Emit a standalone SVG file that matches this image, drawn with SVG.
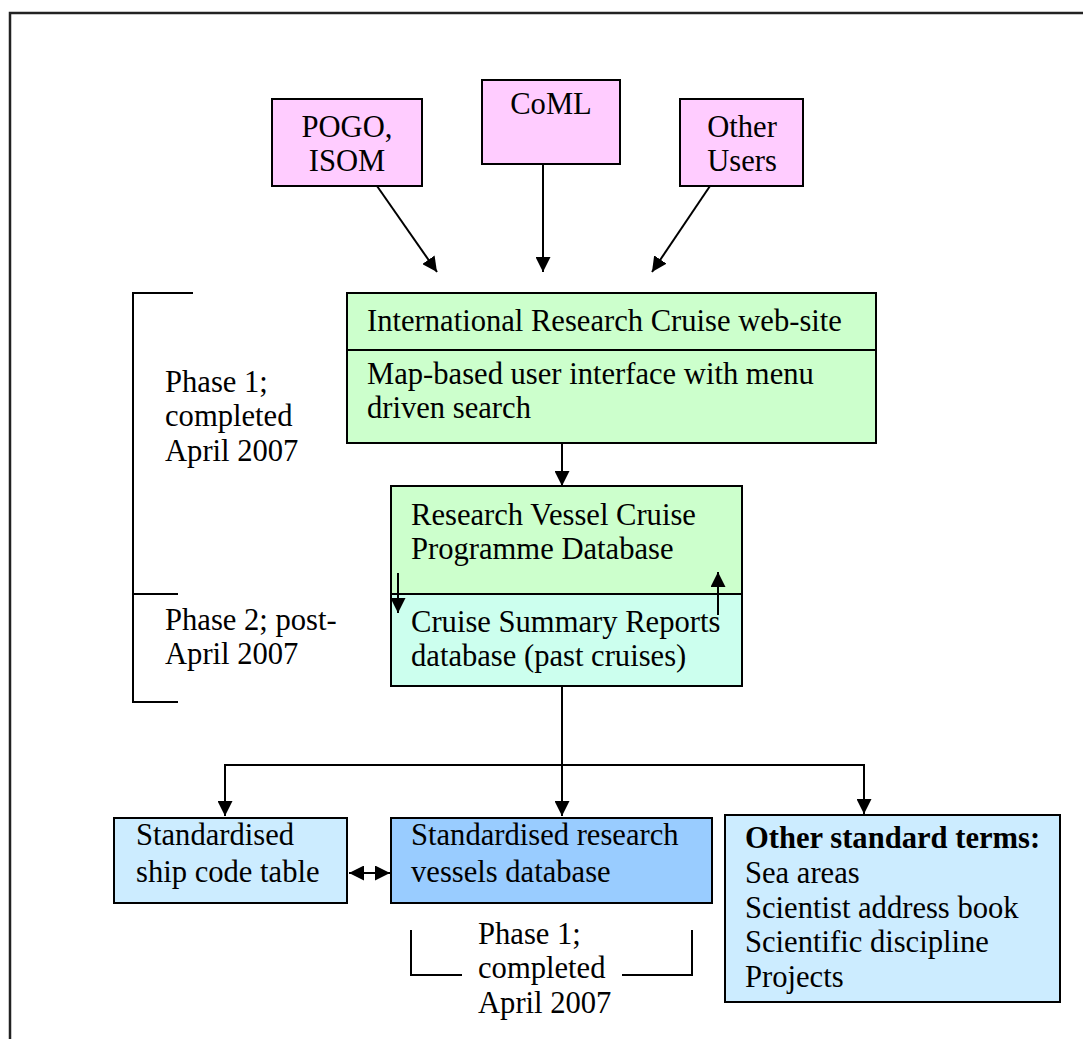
<svg xmlns="http://www.w3.org/2000/svg" width="1083" height="1039" viewBox="0 0 1083 1039">
<defs>
<marker id="ah" markerUnits="userSpaceOnUse" markerWidth="15" markerHeight="15" viewBox="0 0 15 15" refX="15" refY="7.5" orient="auto-start-reverse">
<path d="M0,0 L15,7.5 L0,15 Z" fill="#000"/>
</marker>
<style>
.t{font-family:"Liberation Serif","Times New Roman",serif;font-size:30.6px;fill:#000}
.b{font-weight:bold}
.box{stroke:#000;stroke-width:2}
.pink{fill:#FFCCFF}
.green{fill:#CCFFCC}
.cyan{fill:#CCFFEE}
.lblue{fill:#CCECFF}
.mblue{fill:#99CCFF}
.c{stroke:#000;stroke-width:2;fill:none}
.a{marker-end:url(#ah)}
.br{stroke:#000;stroke-width:2;fill:none}
</style>
</defs>
<rect width="1083" height="1039" fill="#fff"/>
<path d="M10,1039 V13 H1083" fill="none" stroke="#222" stroke-width="2.5"/>

<g id="pogo">
<rect class="box pink" x="272" y="99" width="150" height="87"/>
<text class="t" x="347" y="137" text-anchor="middle">POGO,</text>
<text class="t" x="347" y="171" text-anchor="middle">ISOM</text>
</g>
<g id="coml">
<rect class="box pink" x="482" y="80" width="138" height="84"/>
<text class="t" x="551" y="114" text-anchor="middle">CoML</text>
</g>
<g id="other-users">
<rect class="box pink" x="680" y="99" width="123" height="87"/>
<text class="t" x="742" y="137" text-anchor="middle">Other</text>
<text class="t" x="742" y="171" text-anchor="middle">Users</text>
</g>

<g id="website">
<rect class="box green" x="347" y="293" width="529" height="150"/>
<line x1="347" y1="350" x2="876" y2="350" stroke="#000" stroke-width="2"/>
<text class="t" x="367" y="331">International Research Cruise web-site</text>
<text class="t" x="367" y="384">Map-based user interface with menu</text>
<text class="t" x="367" y="418">driven search</text>
</g>

<g id="cruise-db">
<rect class="green" x="391" y="486" width="351" height="108"/>
<rect class="cyan" x="391" y="594" width="351" height="92"/>
<rect class="box" fill="none" x="391" y="486" width="351" height="200"/>
<line x1="391" y1="594" x2="742" y2="594" stroke="#000" stroke-width="2"/>
<text class="t" x="411" y="525">Research Vessel Cruise</text>
<text class="t" x="411" y="559">Programme Database</text>
<text class="t" x="411" y="632">Cruise Summary Reports</text>
<text class="t" x="411" y="666">database (past cruises)</text>
</g>

<g id="ship-code">
<rect class="box lblue" x="114" y="818" width="233" height="85"/>
<text class="t" x="136" y="845">Standardised</text>
<text class="t" x="136" y="882">ship code table</text>
</g>
<g id="vessels-db">
<rect class="box mblue" x="391" y="818" width="321" height="85"/>
<text class="t" x="411" y="845">Standardised research</text>
<text class="t" x="411" y="882">vessels database</text>
</g>
<g id="other-terms">
<rect class="box lblue" x="725" y="815" width="335" height="187"/>
<text class="t b" x="745" y="848">Other standard terms:</text>
<text class="t" x="745" y="883">Sea areas</text>
<text class="t" x="745" y="918">Scientist address book</text>
<text class="t" x="745" y="952">Scientific discipline</text>
<text class="t" x="745" y="987">Projects</text>
</g>

<g id="phase-left">
<path class="br" d="M193,293 H133 V702 H178 M133,594 H178"/>
<text class="t" x="165" y="392">Phase 1;</text>
<text class="t" x="165" y="426">completed</text>
<text class="t" x="165" y="461">April 2007</text>
<text class="t" x="165" y="630">Phase 2; post-</text>
<text class="t" x="165" y="664">April 2007</text>
</g>

<g id="phase-bottom">
<path class="br" d="M411,930 V975 H462 M622,975 H692 V930"/>
<text class="t" x="478" y="944">Phase 1;</text>
<text class="t" x="478" y="978">completed</text>
<text class="t" x="478" y="1013">April 2007</text>
</g>

<g id="connectors">
<line class="c a" x1="377" y1="186" x2="437" y2="272"/>
<line class="c a" x1="543" y1="164" x2="543" y2="272"/>
<line class="c a" x1="710" y1="186" x2="652" y2="272"/>
<line class="c a" x1="562" y1="443" x2="562" y2="486"/>
<line class="c a" x1="398" y1="573" x2="398" y2="613"/>
<line class="c a" x1="718" y1="615" x2="718" y2="572"/>
<line class="c" x1="562" y1="686" x2="562" y2="765"/>
<line class="c" x1="225" y1="765" x2="864" y2="765"/>
<line class="c a" x1="225" y1="764" x2="225" y2="816"/>
<line class="c a" x1="562" y1="765" x2="562" y2="816"/>
<line class="c a" x1="864" y1="764" x2="864" y2="814"/>
<line class="c a" x1="349" y1="873" x2="390" y2="873" style="marker-start:url(#ah)"/>
</g>
</svg>
